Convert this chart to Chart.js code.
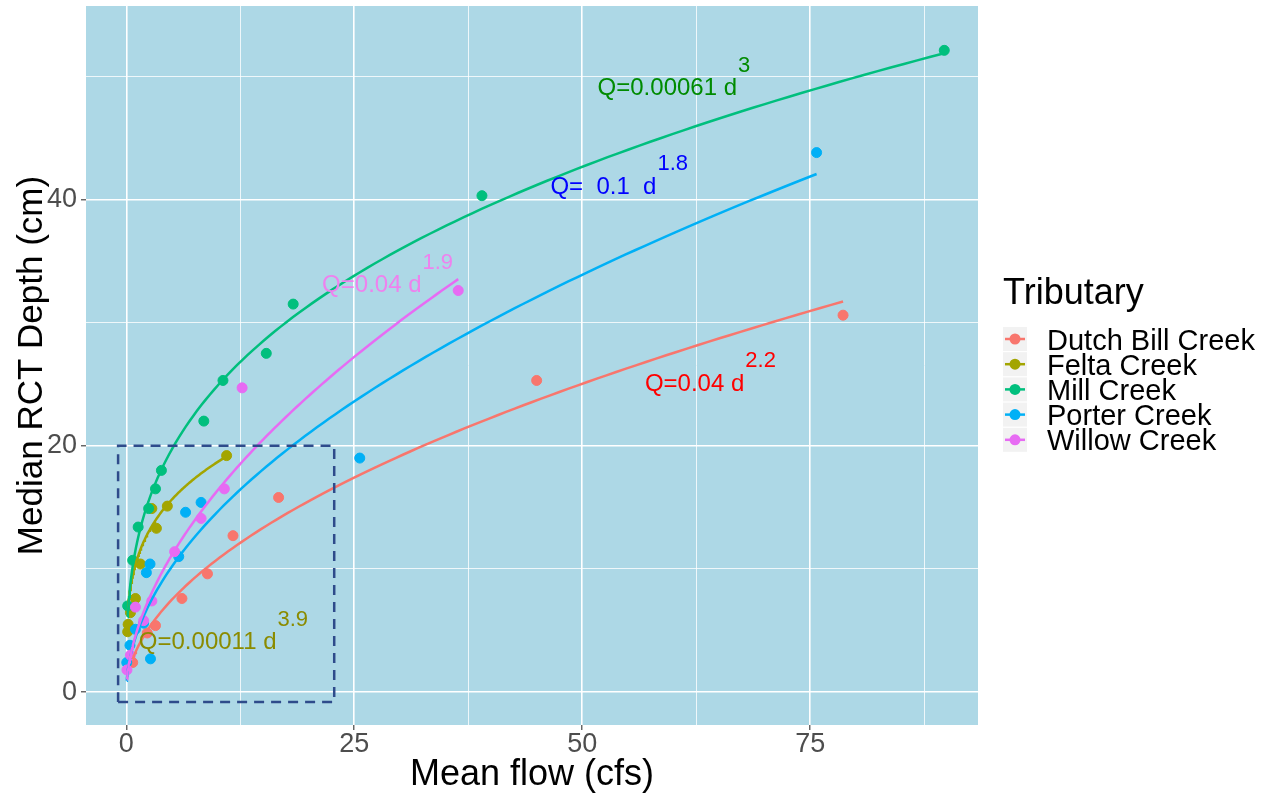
<!DOCTYPE html>
<html>
<head>
<meta charset="utf-8">
<script src="https://cdn.jsdelivr.net/npm/chart.js@4/dist/chart.umd.min.js"></script>
<style>
  html, body { margin: 0; padding: 0; background: #ffffff; }
  canvas { display: block; }
</style>
</head>
<body>
<canvas id="chart" width="1271" height="801"></canvas>
<script>
// Tributaries and their colours
const tributaries = ['Dutch Bill Creek', 'Felta Creek', 'Mill Creek', 'Porter Creek', 'Willow Creek'];
const seriesColors = ['#F8766D', '#A3A500', '#00BF7D', '#00B0F6', '#E76BF3'];

// Observations: mean flow (cfs) and median RCT depth (cm)
const dutchFlow  = [0.7, 2.3, 3.2, 6.1, 8.9, 11.7, 16.7, 45.0, 78.6];
const dutchDepth = [2.4, 4.8, 5.4, 7.6, 9.6, 12.7, 15.8, 25.3, 30.6];
const feltaFlow  = [0.15, 0.2, 0.45, 1.0, 1.55, 2.8, 3.3, 4.5, 11.0];
const feltaDepth = [4.9, 5.5, 6.45, 7.6, 10.4, 14.9, 13.3, 15.1, 19.2];
const millFlow   = [0.15, 0.7, 1.3, 2.45, 3.2, 3.85, 8.5, 10.6, 15.35, 18.3, 39.0, 89.7];
const millDepth  = [7.0, 10.7, 13.4, 14.9, 16.5, 18.0, 22.0, 25.3, 27.5, 31.5, 40.3, 52.1];
const porterFlow = [0.05, 0.4, 1.0, 1.9, 2.2, 2.6, 2.65, 5.75, 6.5, 8.2, 25.6, 75.7];
const porterDepth= [2.4, 3.8, 5.1, 5.6, 9.7, 10.4, 2.7, 11.0, 14.6, 15.4, 19.0, 43.8];
const willowFlow = [0.07, 0.45, 1.0, 1.9, 2.8, 5.3, 8.2, 10.75, 12.7, 36.4];
const willowDepth= [1.8, 3.0, 6.9, 5.8, 7.4, 11.4, 14.1, 16.5, 24.7, 32.6];

const flows  = [dutchFlow, feltaFlow, millFlow, porterFlow, willowFlow];
const depths = [dutchDepth, feltaDepth, millDepth, porterDepth, willowDepth];

// Power-law fits of depth against flow: depth = coef * flow ^ expo
const fitCoef = [3.235, 10.35, 11.5, 4.405, 4.56];
const fitExpo = [0.523, 0.2564, 0.335, 0.5215, 0.555];

// Rating equations written on the plot
const eqText   = ['Q=0.04 d', 'Q=0.00011 d', 'Q=0.00061 d', 'Q=  0.1  d', 'Q=0.04 d'];
const eqPower  = ['2.2', '3.9', '3', '1.8', '1.9'];
const eqColors = ['#FF0000', '#8B8B00', '#008B00', '#0000FF', '#EE82EE'];
const eqFlow   = [64, 10.6, 60, 54, 28.6];
const eqDepth  = [25, 4, 49, 41, 33];

// Dashed box around the low-flow cluster
const boxFlow  = [-0.9, 22.8];
const boxDepth = [-0.8, 20];

// Axis ticks
const xTicks = [0, 12.5, 25, 37.5, 50, 62.5, 75, 87.5];
const xMajor = [0, 25, 50, 75];
const yTicks = [0, 10, 20, 30, 40, 50];
const yMajor = [0, 20, 40];

const FONT = "'Liberation Sans', Arial, Helvetica, sans-serif";
Chart.defaults.font.family = FONT;

function fitPoints(i) {
  const lo = Math.min(...flows[i]);
  const hi = Math.max(...flows[i]);
  const pts = [];
  const n = 120;
  for (let k = 0; k <= n; k++) {
    const t = k / n;
    const q = lo + (hi - lo) * t * t;
    pts.push({ x: q, y: fitCoef[i] * Math.pow(q, fitExpo[i]) });
  }
  return pts;
}

const datasets = [];
// points first, then fitted curves, then the box (lower order = drawn on top)
tributaries.forEach((name, i) => {
  datasets.push({
    label: name,
    data: flows[i].map((q, j) => ({ x: q, y: depths[i][j] })),
    showLine: false,
    pointRadius: 5,
    pointBorderWidth: 1,
    pointBackgroundColor: seriesColors[i],
    pointBorderColor: seriesColors[i],
    order: 30 - i
  });
});
tributaries.forEach((name, i) => {
  datasets.push({
    label: name + ' fit',
    data: fitPoints(i),
    showLine: true,
    borderColor: seriesColors[i],
    borderWidth: 2.5,
    pointRadius: 0,
    tension: 0,
    fill: false,
    order: 20 - i
  });
});
datasets.push({
  label: 'box',
  data: [
    { x: boxFlow[0], y: boxDepth[0] }, { x: boxFlow[1], y: boxDepth[0] },
    { x: boxFlow[1], y: boxDepth[1] }, { x: boxFlow[0], y: boxDepth[1] },
    { x: boxFlow[0], y: boxDepth[0] }
  ],
  showLine: true,
  borderColor: '#2E4B8B',
  borderWidth: 2.5,
  borderDash: [10, 7],
  pointRadius: 0,
  fill: false,
  order: 1
});

const panelFill = {
  id: 'panelFill',
  beforeDraw(chart) {
    const { ctx, chartArea: a } = chart;
    ctx.save();
    ctx.fillStyle = '#ADD8E6';
    ctx.fillRect(a.left, a.top, a.right - a.left, a.bottom - a.top);
    ctx.restore();
  }
};

const equations = {
  id: 'equations',
  afterDatasetsDraw(chart) {
    const { ctx, scales } = chart;
    ctx.save();
    ctx.textBaseline = 'middle';
    ctx.textAlign = 'left';
    eqText.forEach((txt, i) => {
      const mainFont = '24px ' + FONT;
      const supFont = '22px ' + FONT;
      ctx.font = mainFont;
      const wMain = ctx.measureText(txt).width;
      ctx.font = supFont;
      const wSup = ctx.measureText(eqPower[i]).width;
      const cx = scales.x.getPixelForValue(eqFlow[i]);
      const cy = scales.y.getPixelForValue(eqDepth[i]);
      const left = cx - (wMain + wSup) / 2;
      ctx.fillStyle = eqColors[i];
      ctx.font = mainFont;
      ctx.fillText(txt, left, cy);
      ctx.font = supFont;
      ctx.fillText(eqPower[i], left + wMain + 1, cy - 23);
    });
    ctx.restore();
  }
};

const legendBox = {
  id: 'legendBox',
  afterDraw(chart) {
    const { ctx } = chart;
    ctx.save();
    ctx.fillStyle = '#000000';
    ctx.textAlign = 'left';
    ctx.textBaseline = 'alphabetic';
    ctx.font = '36px ' + FONT;
    ctx.fillText('Tributary', 1003, 304);
    tributaries.forEach((name, i) => {
      const cy = 339 + i * 25.2;
      ctx.fillStyle = '#F2F2F2';
      ctx.fillRect(1003, cy - 12, 24, 24);
      ctx.strokeStyle = seriesColors[i];
      ctx.lineWidth = 2.5;
      ctx.beginPath();
      ctx.moveTo(1005, cy);
      ctx.lineTo(1025, cy);
      ctx.stroke();
      ctx.fillStyle = seriesColors[i];
      ctx.beginPath();
      ctx.arc(1015, cy, 5.5, 0, Math.PI * 2);
      ctx.fill();
      ctx.fillStyle = '#000000';
      ctx.font = '29px ' + FONT;
      ctx.fillText(name, 1047, cy + 10.5);
    });
    ctx.restore();
  }
};

const isMajorX = v => xMajor.includes(v);
const isMajorY = v => yMajor.includes(v);

new Chart(document.getElementById('chart'), {
  type: 'scatter',
  data: { datasets },
  plugins: [panelFill, equations, legendBox],
  options: {
    responsive: false,
    devicePixelRatio: 1,
    animation: false,
    layout: { padding: { left: 0, top: 4, right: 293, bottom: 0 } },
    plugins: { legend: { display: false }, tooltip: { enabled: false } },
    scales: {
      x: {
        type: 'linear',
        min: -4.42,
        max: 93.4,
        afterBuildTicks: s => { s.ticks = xTicks.map(v => ({ value: v })); },
        afterFit: s => { s.height = 76; s.paddingLeft = 0; s.paddingRight = 0; },
        border: { display: false },
        grid: {
          color: '#FFFFFF',
          lineWidth: c => (c.tick && isMajorX(c.tick.value)) ? 1.6 : 0.8,
          tickColor: c => (c.tick && isMajorX(c.tick.value)) ? '#333333' : 'rgba(0,0,0,0)',
          tickLength: 5,
          tickWidth: 1.1
        },
        ticks: {
          autoSkip: false,
          maxRotation: 0,
          padding: -2,
          color: '#4D4D4D',
          font: { size: 27 },
          callback: v => isMajorX(v) ? String(v) : ''
        },
        title: {
          display: true,
          text: 'Mean flow (cfs)',
          color: '#000000',
          font: { size: 36 },
          padding: { top: 0, bottom: 4 }
        }
      },
      y: {
        type: 'linear',
        min: -2.67,
        max: 55.7,
        afterBuildTicks: s => { s.ticks = yTicks.map(v => ({ value: v })); },
        afterFit: s => { s.width = 86; s.paddingTop = 0; s.paddingBottom = 0; },
        border: { display: false },
        grid: {
          color: '#FFFFFF',
          lineWidth: c => (c.tick && isMajorY(c.tick.value)) ? 1.6 : 0.8,
          tickColor: c => (c.tick && isMajorY(c.tick.value)) ? '#333333' : 'rgba(0,0,0,0)',
          tickLength: 5,
          tickWidth: 1.1
        },
        ticks: {
          autoSkip: false,
          padding: 4,
          color: '#4D4D4D',
          font: { size: 27 },
          callback: v => isMajorY(v) ? String(v) : ''
        },
        title: {
          display: true,
          text: 'Median RCT Depth (cm)',
          color: '#000000',
          font: { size: 35 },
          padding: { top: 11, bottom: 0 }
        }
      }
    }
  }
});
</script>
</body>
</html>
